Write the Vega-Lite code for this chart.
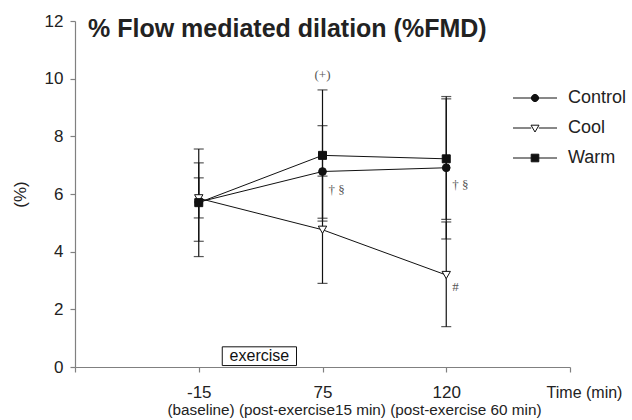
{
  "$schema": "https://vega.github.io/schema/vega-lite/v6.json",
  "width": 495,
  "height": 346,
  "autosize": {"type": "none"},
  "padding": {"left": 75, "top": 21, "right": 62, "bottom": 53},
  "background": "white",
  "config": {
    "view": {"stroke": null},
    "font": "Liberation Sans",
    "axis": {"grid": false, "domainColor": "#808080", "tickColor": "#808080", "labelColor": "#222222", "titleColor": "#222222", "titleFontWeight": "normal", "domainWidth": 1.2, "tickWidth": 1.2}
  },
  "title": {
    "text": "% Flow mediated dilation (%FMD)",
    "anchor": "start",
    "frame": "group",
    "orient": "top",
    "offset": -50,
    "dx": 13,
    "baseline": "alphabetic",
    "fontSize": 25,
    "fontWeight": "bold",
    "font": "Liberation Sans",
    "color": "#222222"
  },
  "datasets": {
    "pts": [
      {"g": "Control", "time": -15, "x": 1, "y": 5.72, "lo": 4.36, "hi": 7.08},
      {"g": "Control", "time": 75, "x": 2, "y": 6.78, "lo": 5.16, "hi": 8.37},
      {"g": "Control", "time": 120, "x": 3, "y": 6.91, "lo": 4.44, "hi": 9.38},
      {"g": "Cool", "time": -15, "x": 1, "y": 5.85, "lo": 5.17, "hi": 6.56},
      {"g": "Cool", "time": 75, "x": 2, "y": 4.76, "lo": 2.9, "hi": 6.62},
      {"g": "Cool", "time": 120, "x": 3, "y": 3.19, "lo": 1.4, "hi": 5.03},
      {"g": "Warm", "time": -15, "x": 1, "y": 5.7, "lo": 3.83, "hi": 7.56},
      {"g": "Warm", "time": 75, "x": 2, "y": 7.34, "lo": 5.06, "hi": 9.61},
      {"g": "Warm", "time": 120, "x": 3, "y": 7.22, "lo": 5.12, "hi": 9.3}
    ],
    "box": [
      {"x": 1.19, "x2": 1.79, "y": 0.05, "y2": 0.7}
    ],
    "boxlabel": [
      {"x": 1.49, "y": 0.38, "t": "exercise"}
    ],
    "notesCenter": [
      {"x": 2, "y": 10.13, "t": "(+)"}
    ],
    "notesLeft": [
      {"x": 2, "y": 6.14, "t": "† §"},
      {"x": 3, "y": 6.31, "t": "† §"},
      {"x": 3, "y": 2.77, "t": "#"}
    ]
  },
  "encoding": {
    "x": {
      "field": "x",
      "type": "quantitative",
      "scale": {"domain": [0, 4], "nice": false, "zero": false},
      "axis": {
        "values": [0, 1, 2, 3, 4],
        "labelExpr": "datum.value==1?'-15':datum.value==2?'75':datum.value==3?'120':datum.value==4?'Time (min)':''",
        "labelOffset": {"condition": {"test": "datum.value==4", "value": 14}, "value": 0},
        "labelFontSize": {"condition": {"test": "datum.value==4", "value": 16}, "value": 17},
        "labelPadding": 12,
        "tickSize": 5,
        "labelOverlap": false,
        "labelBound": false,
        "labelFlush": false,
        "title": "(baseline)  (post-exercise15 min) (post-exercise 60 min)",
        "titleFontSize": 15.3,
        "titleX": 279,
        "titleY": 42,
        "titleBaseline": "middle",
        "titleAlign": "center",
        "titleAnchor": "middle"
      }
    },
    "y": {
      "field": "y",
      "type": "quantitative",
      "scale": {"domain": [0, 12], "nice": false, "zero": true},
      "axis": {
        "values": [0, 2, 4, 6, 8, 10, 12],
        "labelFontSize": 17,
        "labelPadding": 7,
        "tickSize": 5,
        "title": "(%)",
        "titleFontSize": 17,
        "titleX": -55,
        "titleY": 173,
        "titleBaseline": "middle",
        "titleAlign": "center",
        "titleAnchor": "middle"
      }
    }
  },
  "layer": [
    {
      "data": {"name": "box"},
      "mark": {"type": "rect", "fill": "white", "stroke": "#111111", "strokeWidth": 1},
      "encoding": {"x2": {"field": "x2"}, "y2": {"field": "y2"}}
    },
    {
      "data": {"name": "boxlabel"},
      "mark": {"type": "text", "fontSize": 16, "fill": "#111111", "align": "center", "baseline": "middle"},
      "encoding": {"text": {"field": "t"}}
    },
    {
      "data": {"name": "pts"},
      "mark": {"type": "errorbar", "ticks": {"size": 10, "color": "#111111"}, "color": "#111111", "thickness": 1.2},
      "encoding": {
        "y": {"field": "lo", "type": "quantitative", "scale": {"domain": [0, 12], "nice": false}},
        "y2": {"field": "hi"},
        "detail": {"field": "g"}
      }
    },
    {
      "data": {"name": "pts"},
      "mark": {"type": "line", "strokeWidth": 1},
      "encoding": {
        "order": {"field": "x"},
        "stroke": {
          "field": "g",
          "type": "nominal",
          "scale": {"domain": ["Control", "Cool", "Warm"], "range": ["#111111", "#111111", "#111111"]},
          "legend": {
            "orient": "none",
            "legendX": 451,
            "legendY": 68,
            "title": null,
            "padding": 0,
            "labelFontSize": 18,
            "labelFont": "Liberation Sans",
            "labelColor": "#222222",
            "labelOffset": 24,
            "rowPadding": 12,
            "symbolSize": 64,
            "encode": {
              "symbols": {
                "update": {
                  "shape": {"signal": "datum.value==='Control' ? 'M-5.5,0H5.5M0.9,0A0.9,0.9,0,1,1,-0.9,0A0.9,0.9,0,1,1,0.9,0Z' : datum.value==='Cool' ? 'M-5.5,0H-0.95M0.95,0H5.5M-1,-0.7H1L0,1Z' : 'M-5.5,0H5.5M-0.95,-0.95H0.95V0.95H-0.95Z'"},
                  "fill": {"signal": "datum.value==='Cool' ? 'white' : '#111111'"},
                  "strokeWidth": {"value": 1},
                  "opacity": {"value": 1}
                }
              }
            }
          }
        }
      }
    },
    {
      "data": {"name": "pts"},
      "transform": [{"filter": "datum.g === 'Control'"}],
      "mark": {"type": "point", "shape": "circle", "filled": true, "fill": "#111111", "stroke": "#111111", "strokeWidth": 1, "size": 60, "opacity": 1}
    },
    {
      "data": {"name": "pts"},
      "transform": [{"filter": "datum.g === 'Cool'"}],
      "mark": {"type": "point", "shape": "triangle-down", "filled": true, "fill": "white", "stroke": "#111111", "strokeWidth": 1, "size": 70, "opacity": 1}
    },
    {
      "data": {"name": "pts"},
      "transform": [{"filter": "datum.g === 'Warm'"}],
      "mark": {"type": "point", "shape": "square", "filled": true, "fill": "#111111", "stroke": "#111111", "strokeWidth": 1, "size": 64, "opacity": 1}
    },
    {
      "data": {"name": "notesCenter"},
      "mark": {"type": "text", "font": "Liberation Serif", "fontSize": 13, "fill": "#555555", "align": "center", "baseline": "middle"},
      "encoding": {"text": {"field": "t"}}
    },
    {
      "data": {"name": "notesLeft"},
      "mark": {"type": "text", "font": "Liberation Serif", "fontSize": 13, "fill": "#555555", "align": "left", "baseline": "middle", "dx": 6},
      "encoding": {"text": {"field": "t"}}
    }
  ]
}
